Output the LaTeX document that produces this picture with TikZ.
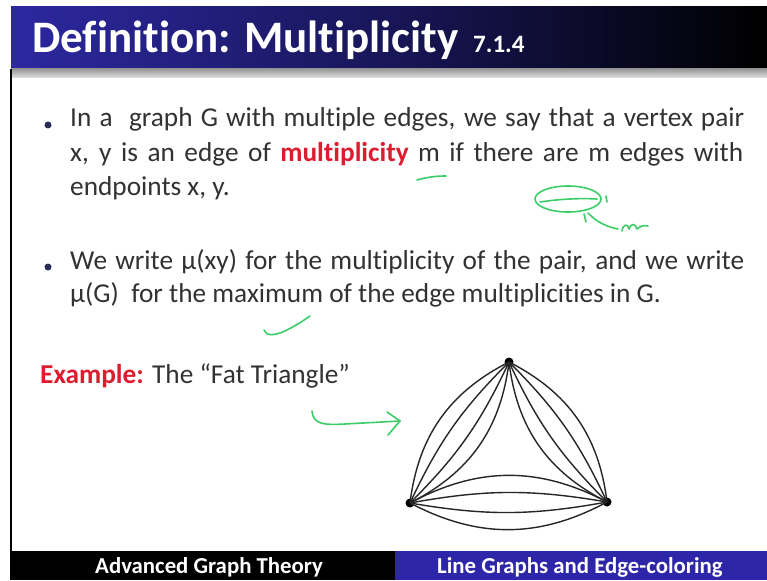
\documentclass[tikz,border=0pt]{standalone}
\usepackage{fontspec}
\setmainfont{Carlito}[Ligatures={NoCommon}]
\definecolor{titleblue}{RGB}{44,40,160}
\definecolor{footblue}{RGB}{46,38,168}
\definecolor{bodytext}{RGB}{50,50,50}
\definecolor{hlred}{RGB}{222,28,48}
\definecolor{handgreen}{RGB}{60,205,105}
\definecolor{bulletc}{RGB}{40,45,90}
\tikzset{
  body/.style={anchor=base west, inner sep=0pt, text=bodytext, font=\fontsize{27.3}{30}\selectfont},
  foot/.style={anchor=base west, inner sep=0pt, text=white, font=\fontsize{22.8}{26}\selectfont\bfseries},
  bul/.style={circle, fill=bulletc, inner sep=0pt, minimum size=7pt},
  vtx/.style={circle, fill=black, inner sep=0pt, minimum size=9pt},
  edge/.style={line width=1.4pt, draw=black!85},
  hand/.style={line width=1.6pt, draw=handgreen, line cap=round, line join=round}
}
\begin{document}
\begin{tikzpicture}[x=1pt,y=-1pt]
\useasboundingbox (0,0) rectangle (767,580);
\fill[white] (0,0) rectangle (767,580);
% title band
\shade[left color=titleblue, right color=black, middle color=titleblue!55!black] (11,7) rectangle (767,69);
\shade[top color=black!40, bottom color=black!12] (11,69) rectangle (767,78);
\draw[line width=1.6pt] (11,69) -- (11,551);
\node[anchor=base west, inner sep=0pt, text=white, font=\fontsize{45}{50}\selectfont\bfseries] (title) at (32,53) {Definition: Multiplicity};
\node[anchor=base west, inner sep=0pt, text=white, font=\fontsize{25}{28}\selectfont\bfseries] (num) at (473,53) {7.1.4};
% footer
\fill[black] (10,551) rectangle (395,580);
\fill[footblue] (395,551) rectangle (767,580);
\node[foot] (f1) at (95,573) {Advanced Graph Theory};
\node[foot] (f2) at (437,573) {Line Graphs and Edge-coloring};
% bullet 1
\node[bul] (b1) at (48,125) {};
\node[body] (l1) at (70,127) {\makebox[674pt][s]{In a\ \ graph G with multiple edges, we say that a vertex pair}};
\node[body] (l2) at (70,161) {\makebox[673pt][s]{x, y is an edge of {\bfseries\color{hlred}multiplicity} m if there are m edges with}};
\node[body] (l3) at (70,195) {endpoints x, y.};
% bullet 2
\node[bul] (b2) at (48,267) {};
\node[body] (l4) at (70,269) {\makebox[674pt][s]{We write μ(xy) for the multiplicity of the pair, and we write}};
\node[body] (l5) at (70,302) {μ(G)\ \ for the maximum of the edge multiplicities in G.};
% example
\node[body] (ex) at (40,383) {{\bfseries\color{hlred}Example:} The “Fat Triangle”};
% graph
\node[vtx] (t) at (509,362) {};
\node[vtx] (l) at (410,503) {};
\node[vtx] (r) at (607,502) {};
\foreach \a/\b in {t/l,l/r,r/t}{
  \draw[edge] (\a.center) to[bend left=28] (\b.center);
  \draw[edge] (\a.center) to[bend left=10] (\b.center);
  \draw[edge] (\a.center) to[bend right=10] (\b.center);
  \draw[edge] (\a.center) to[bend right=28] (\b.center);
}
% hand annotations
\draw[hand] (417,180) .. controls (428,177) and (436,176) .. (446,176);
\draw[hand] (568,199) ellipse [x radius=33, y radius=13];
\draw[hand] (540,202) .. controls (560,199) and (580,198) .. (597,199);
\draw[hand] (606,196) -- (607,202);
\draw[hand] (618,229) .. controls (603,226) and (595,220) .. (588,213);
\draw[hand] (584,214) -- (586,222);
\draw[hand] (622,231) .. controls (623,224) and (628,223) .. (629,229) .. controls (631,223) and (635,223) .. (637,229) .. controls (640,226) and (644,225) .. (648,226);
\draw[hand] (264,330) .. controls (266,336) and (274,336) .. (285,331) .. controls (295,326) and (303,321) .. (310,316);
\draw[hand] (312,411) .. controls (313,425) and (325,425) .. (345,424) -- (400,421);
\draw[hand] (387,412) -- (400,421) -- (388,435);
\end{tikzpicture}
\end{document}
